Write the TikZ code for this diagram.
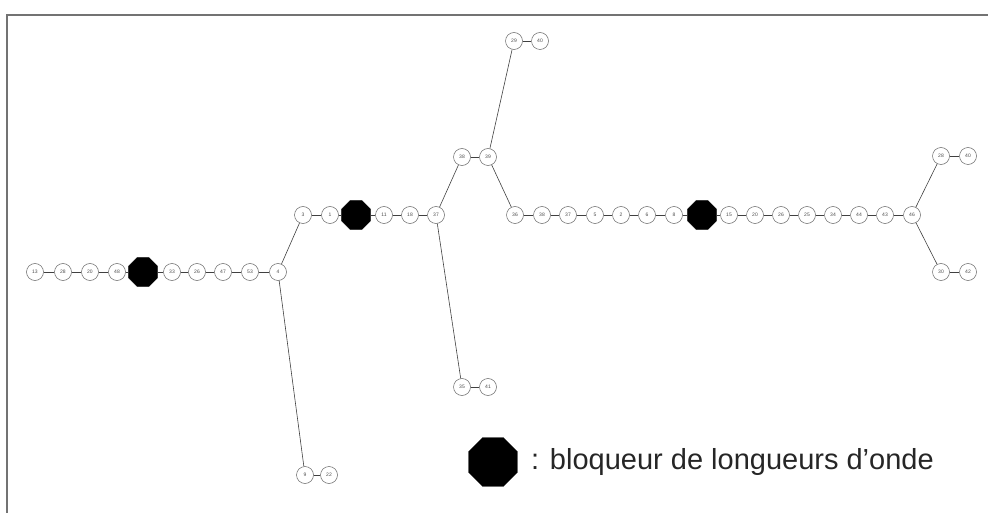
\documentclass[tikz,border=0pt]{standalone}
\usepackage{fontspec}
\setmainfont{Liberation Sans}
\usepackage{tikz}
\usetikzlibrary{shapes.geometric}

\tikzset{
  site/.style={circle, draw=black!60, line width=0.5pt, minimum size=17pt, inner sep=0pt, font=\fontsize{5}{5}\selectfont, text=black!70},
  blocker/.style={regular polygon, regular polygon sides=8, fill=black, draw=black, minimum size=31pt, inner sep=0pt},
  link/.style={draw=black!75, line width=0.6pt}
}

\begin{document}
\begin{tikzpicture}[x=1pt,y=1pt,yscale=-1,xscale=1]
\useasboundingbox (0,0) rectangle (988,513);

%Frame
\draw [black!55, line width=1.2pt] (7,513) -- (7,15) -- (988,15) ;

% Left chain
\node [site] (l1) at (35,272) {13};
\node [site] (l2) at (63,272) {28};
\node [site] (l3) at (90,272) {20};
\node [site] (l4) at (117,272) {48};
\node [blocker] (b1) at (143,272) {};
\node [site] (l5) at (172,272) {33};
\node [site] (l6) at (197,272) {26};
\node [site] (l7) at (223,272) {47};
\node [site] (l8) at (250,272) {53};
\node [site] (l9) at (278,272) {4};

% Lower branch
\node [site] (d1) at (305,475) {9};
\node [site] (d2) at (329,475) {22};

% Middle chain
\node [site] (m1) at (303,215) {3};
\node [site] (m2) at (330,215) {1};
\node [blocker] (b2) at (356,215) {};
\node [site] (m3) at (384,215) {11};
\node [site] (m4) at (410,215) {18};
\node [site] (m5) at (436,215) {37};

% Branch 35-41
\node [site] (s1) at (462,387) {35};
\node [site] (s2) at (488,387) {41};

% Upper pair
\node [site] (u1) at (462,157) {38};
\node [site] (u2) at (488,157) {39};

% Top pair
\node [site] (t1) at (514,41) {29};
\node [site] (t2) at (540,41) {40};

% Right chain
\node [site] (r1) at (515,215) {36};
\node [site] (r2) at (542,215) {38};
\node [site] (r3) at (568,215) {37};
\node [site] (r4) at (595,215) {5};
\node [site] (r5) at (621,215) {2};
\node [site] (r6) at (647,215) {6};
\node [site] (r7) at (674,215) {8};
\node [blocker] (b3) at (702,215) {};
\node [site] (r8) at (729,215) {15};
\node [site] (r9) at (755,215) {20};
\node [site] (r10) at (781,215) {26};
\node [site] (r11) at (807,215) {25};
\node [site] (r12) at (833,215) {34};
\node [site] (r13) at (859,215) {44};
\node [site] (r14) at (885,215) {43};
\node [site] (r15) at (912,215) {46};

% Right end pairs
\node [site] (e1) at (941,156) {28};
\node [site] (e2) at (968,156) {40};
\node [site] (e3) at (941,272) {30};
\node [site] (e4) at (968,272) {42};

% Links
\draw [link] (l1) -- (l2) -- (l3) -- (l4) -- (b1) -- (l5) -- (l6) -- (l7) -- (l8) -- (l9) ;
\draw [link] (l9) -- (m1) ;
\draw [link] (l9) -- (d1) ;
\draw [link] (d1) -- (d2) ;
\draw [link] (m1) -- (m2) -- (b2) -- (m3) -- (m4) -- (m5) ;
\draw [link] (m5) -- (u1) ;
\draw [link] (m5) -- (s1) ;
\draw [link] (s1) -- (s2) ;
\draw [link] (u1) -- (u2) ;
\draw [link] (u2) -- (t1) ;
\draw [link] (t1) -- (t2) ;
\draw [link] (u2) -- (r1) ;
\draw [link] (r1) -- (r2) -- (r3) -- (r4) -- (r5) -- (r6) -- (r7) -- (b3) -- (r8) -- (r9) -- (r10) -- (r11) -- (r12) -- (r13) -- (r14) -- (r15) ;
\draw [link] (r15) -- (e1) ;
\draw [link] (e1) -- (e2) ;
\draw [link] (r15) -- (e3) ;
\draw [link] (e3) -- (e4) ;

% Legend
\node [blocker, minimum size=53pt] (key) at (493,462) {};
\node [anchor=west, inner sep=0pt, font=\fontsize{29}{29}\selectfont, text=black!85] (keytext) at (531,462) {: bloqueur de longueurs d'onde};

\end{tikzpicture}
\end{document}
